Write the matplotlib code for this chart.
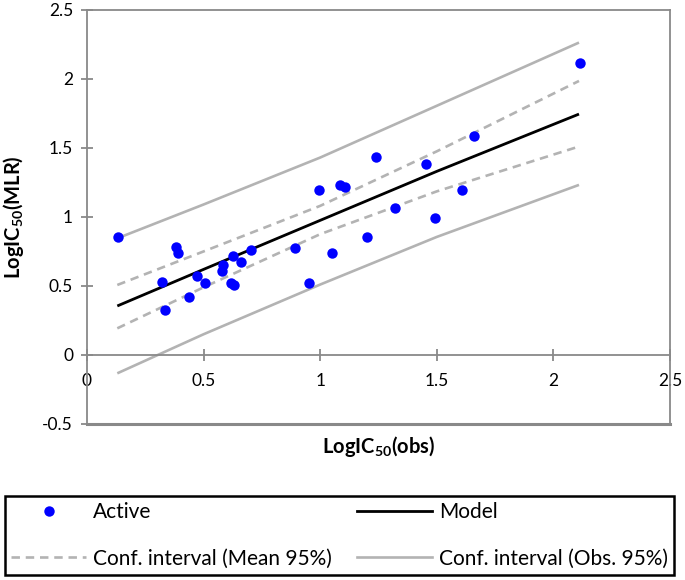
import matplotlib
matplotlib.use("Agg")
import matplotlib.pyplot as plt
from matplotlib.lines import Line2D

plt.rcParams['font.family'] = ['Lato', 'DejaVu Sans']
plt.rcParams['mathtext.fontset'] = 'custom'
plt.rcParams['mathtext.rm'] = 'Lato'
plt.rcParams['mathtext.bf'] = 'Lato:bold'

# Observed vs predicted
obs = [0.132, 0.381, 0.392, 0.323, 0.335, 0.439, 0.471, 0.508, 0.582, 0.579,
       0.617, 0.631, 0.628, 0.661, 0.702, 0.894, 0.951, 0.993, 1.050, 1.086,
       1.107, 1.200, 1.240, 1.323, 1.491, 1.455, 1.608, 1.661, 2.116]
pred = [0.857, 0.780, 0.741, 0.531, 0.326, 0.418, 0.572, 0.524, 0.652, 0.611,
        0.519, 0.507, 0.717, 0.676, 0.761, 0.778, 0.524, 1.196, 0.737, 1.232,
        1.220, 0.857, 1.432, 1.063, 0.990, 1.384, 1.196, 1.587, 2.114]

# Model line and confidence bands
band_x = [0.13, 0.5, 1.0, 1.5, 2.11]
model_y = [0.355, 0.62, 0.975, 1.33, 1.745]
mean_upper = [0.507, 0.75, 1.08, 1.475, 1.985]
mean_lower = [0.193, 0.49, 0.875, 1.185, 1.51]
obs_upper = [0.845, 1.09, 1.43, 1.805, 2.263]
obs_lower = [-0.133, 0.15, 0.51, 0.855, 1.232]

x_ticks = [0, 0.5, 1, 1.5, 2, 2.5]
x_ticklabels = ['0', '0.5', '1', '1.5', '2', '2.5']
y_ticks = [-0.5, 0, 0.5, 1, 1.5, 2, 2.5]
y_ticklabels = ['-0.5', '0', '0.5', '1', '1.5', '2', '2.5']

gray_axis = '#898989'
gray_line = '#B3B3B3'
dash = (0, (3.2, 2.2))

fig = plt.figure(figsize=(6.85, 5.8), dpi=100)
ax = fig.add_axes([0.127, 0.269, 0.851, 0.714])

ax.plot(band_x, obs_upper, color=gray_line, lw=1.9, solid_capstyle='butt', zorder=2)
ax.plot(band_x, obs_lower, color=gray_line, lw=1.9, solid_capstyle='butt', zorder=2)
ax.plot(band_x, mean_upper, color=gray_line, lw=1.9, ls=dash, zorder=2)
ax.plot(band_x, mean_lower, color=gray_line, lw=1.9, ls=dash, zorder=2)
ax.plot(band_x, model_y, color='black', lw=2.0, solid_capstyle='butt', zorder=3)
ax.plot(obs, pred, 'o', color='#0000FF', ms=7.5, mec='none', zorder=4)

ax.set_xlim(0, 2.5)
ax.set_ylim(-0.5, 2.5)
ax.set_xticks(x_ticks)
ax.set_xticklabels(x_ticklabels)
ax.set_yticks(y_ticks)
ax.set_yticklabels(y_ticklabels)

for s in ['top', 'right', 'left']:
    ax.spines[s].set_color(gray_axis)
    ax.spines[s].set_linewidth(1.3)
ax.spines['bottom'].set_position(('data', 0))
ax.spines['bottom'].set_color(gray_axis)
ax.spines['bottom'].set_linewidth(1.3)
ax.axhline(-0.5, color=gray_axis, lw=2.2, zorder=1, clip_on=False)

ax.tick_params(axis='both', direction='inout', length=8, width=1.3, color=gray_axis,
               labelsize=12.5, labelcolor='black')
ax.tick_params(axis='x', pad=9)
ax.tick_params(axis='y', pad=6)

ax.set_xlabel(r'LogIC$_{\mathbf{50}}$(obs)', fontsize=14.5, fontweight='bold', labelpad=0)
ax.xaxis.set_label_coords(0.5, -0.024)
ax.set_ylabel(r'LogIC$_{\mathbf{50}}$(MLR)', fontsize=14.5, fontweight='bold')
ax.yaxis.set_label_coords(-0.105, 0.5)

h_active = Line2D([], [], marker='o', ls='none', color='#0000FF', ms=7.5, mec='none')
h_model = Line2D([], [], color='black', lw=2.0)
h_mean = Line2D([], [], color=gray_line, lw=1.9, ls=dash)
h_obs = Line2D([], [], color=gray_line, lw=1.9)
handles = [h_active, h_mean, h_model, h_obs]
labels = ['Active', 'Conf. interval (Mean 95%)', 'Model', 'Conf. interval (Obs. 95%)']
leg = fig.legend(handles, labels, ncol=2, loc='center', mode='expand',
                 bbox_to_anchor=(5 / 685, 2 / 580, 669 / 685, 85 / 580),
                 frameon=True, fancybox=False, edgecolor='black', framealpha=1,
                 fontsize=15, handlelength=3.6, handletextpad=0.34,
                 columnspacing=0.45, labelspacing=1.25, borderpad=0.3,
                 borderaxespad=0)
leg.get_frame().set_linewidth(1.8)

fig.savefig('out.png', dpi=100)
